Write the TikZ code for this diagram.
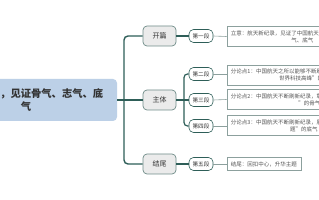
\documentclass[tikz,border=0pt]{standalone}
\usepackage{fontspec}
\setmainfont{Noto Sans CJK SC}
\definecolor{trunk}{HTML}{2E5E58}
\definecolor{lonefill}{HTML}{EBEBEB}
\definecolor{loneborder}{HTML}{6F8C88}
\definecolor{thin}{HTML}{8CA09D}
\definecolor{rootfill}{HTML}{BCD0E7}
\definecolor{txt}{HTML}{333333}
\definecolor{txtlight}{HTML}{555555}
\tikzset{
  rootbox/.style={fill=rootfill, rounded corners=4pt, minimum width=182pt, minimum height=42pt,
    align=center, text=txt, font=\fontsize{10.3}{13}\selectfont\bfseries, inner sep=0pt},
  lvlone/.style={draw=loneborder, fill=lonefill, line width=0.7pt, rounded corners=4pt,
    minimum width=33pt, minimum height=20pt, inner sep=0pt, text=txt, font=\fontsize{7}{8}\selectfont},
  lvltwo/.style={draw=trunk, fill=white, line width=0.6pt, rounded corners=4.5pt,
    minimum width=24pt, minimum height=13pt, inner sep=0pt, text=txt, font=\fontsize{5.6}{7}\selectfont},
  lvlthree/.style={draw=thin, fill=white, line width=0.5pt, anchor=west, align=center,
    minimum height=20pt, inner xsep=4pt, inner ysep=2pt, text=txtlight, font=\fontsize{5.5}{6.8}\selectfont},
  mainline/.style={draw=trunk, line width=1.4pt, rounded corners=4pt},
  subline/.style={draw=trunk, line width=1.2pt, rounded corners=3.5pt},
  thinline/.style={draw=thin, line width=0.6pt},
}
\begin{document}
\begin{tikzpicture}[x=1pt,y=-1pt]
\useasboundingbox (0,0) rectangle (319,200);
\clip (0,0) rectangle (319,200);
\fill[white] (0,0) rectangle (319,200);

\node[rootbox] (root) at (26,100) {航天新纪录，见证骨气、志气、底\\气};

\node[lvlone] (kp) at (159.5,36) {开篇};
\node[lvlone] (zt) at (159.5,100) {主体};
\node[lvlone] (jw) at (159.5,164) {结尾};

\coordinate (tr) at (124,100);
\coordinate (st) at (184,100);

\node[lvltwo] (d1) at (201,36) {第一段};
\node[lvltwo] (d2) at (201,74) {第二段};
\node[lvltwo] (d3) at (201,100) {第三段};
\node[lvltwo] (d4) at (201,126) {第四段};
\node[lvltwo] (d5) at (201,164) {第五段};

\node[lvlthree] (t1) at (226.7,36.5) {立意：航天新纪录，见证了中国航天人自立自强的骨气、志\\气、底气};
\node[lvlthree] (t2) at (226.7,75) {分论点1：中国航天之所以能够不断刷新纪录，是因为有勇攀“\\世界科技高峰”的志气};
\node[lvlthree] (t3) at (226.7,99.5) {分论点2：中国航天不断刷新纪录，彰显了“独立自主、自力更生\\”的骨气};
\node[lvlthree] (t4) at (226.7,125.5) {分论点3：中国航天不断刷新纪录，展现了“攻克核心技术难\\题”的底气};
\node[lvlthree, minimum height=13pt] (t5) at (226.7,164) {结尾：回扣中心，升华主题};

% main trunk
\draw[mainline] (kp.west) -- (kp.west -| tr) -- (jw.west -| tr) -- (jw.west);
\draw[mainline] (root.east) -- (zt.west);

% level one to level two
\draw[mainline] (kp.east) -- (d1.west);
\draw[mainline] (jw.east) -- (d5.west);
\draw[subline] (d2.west) -- (d2.west -| st) -- (d4.west -| st) -- (d4.west);
\draw[subline] (zt.east) -- (d3.west);

% level two to level three
\draw[thinline] (d1.east) -- (t1.west);
\draw[thinline] (d2.east) -- (d2.east -| t2.west);
\draw[thinline] (d3.east) -- (t3.west);
\draw[thinline] (d4.east) -- (d4.east -| t4.west);
\draw[thinline] (d5.east) -- (t5.west);
\end{tikzpicture}
\end{document}
